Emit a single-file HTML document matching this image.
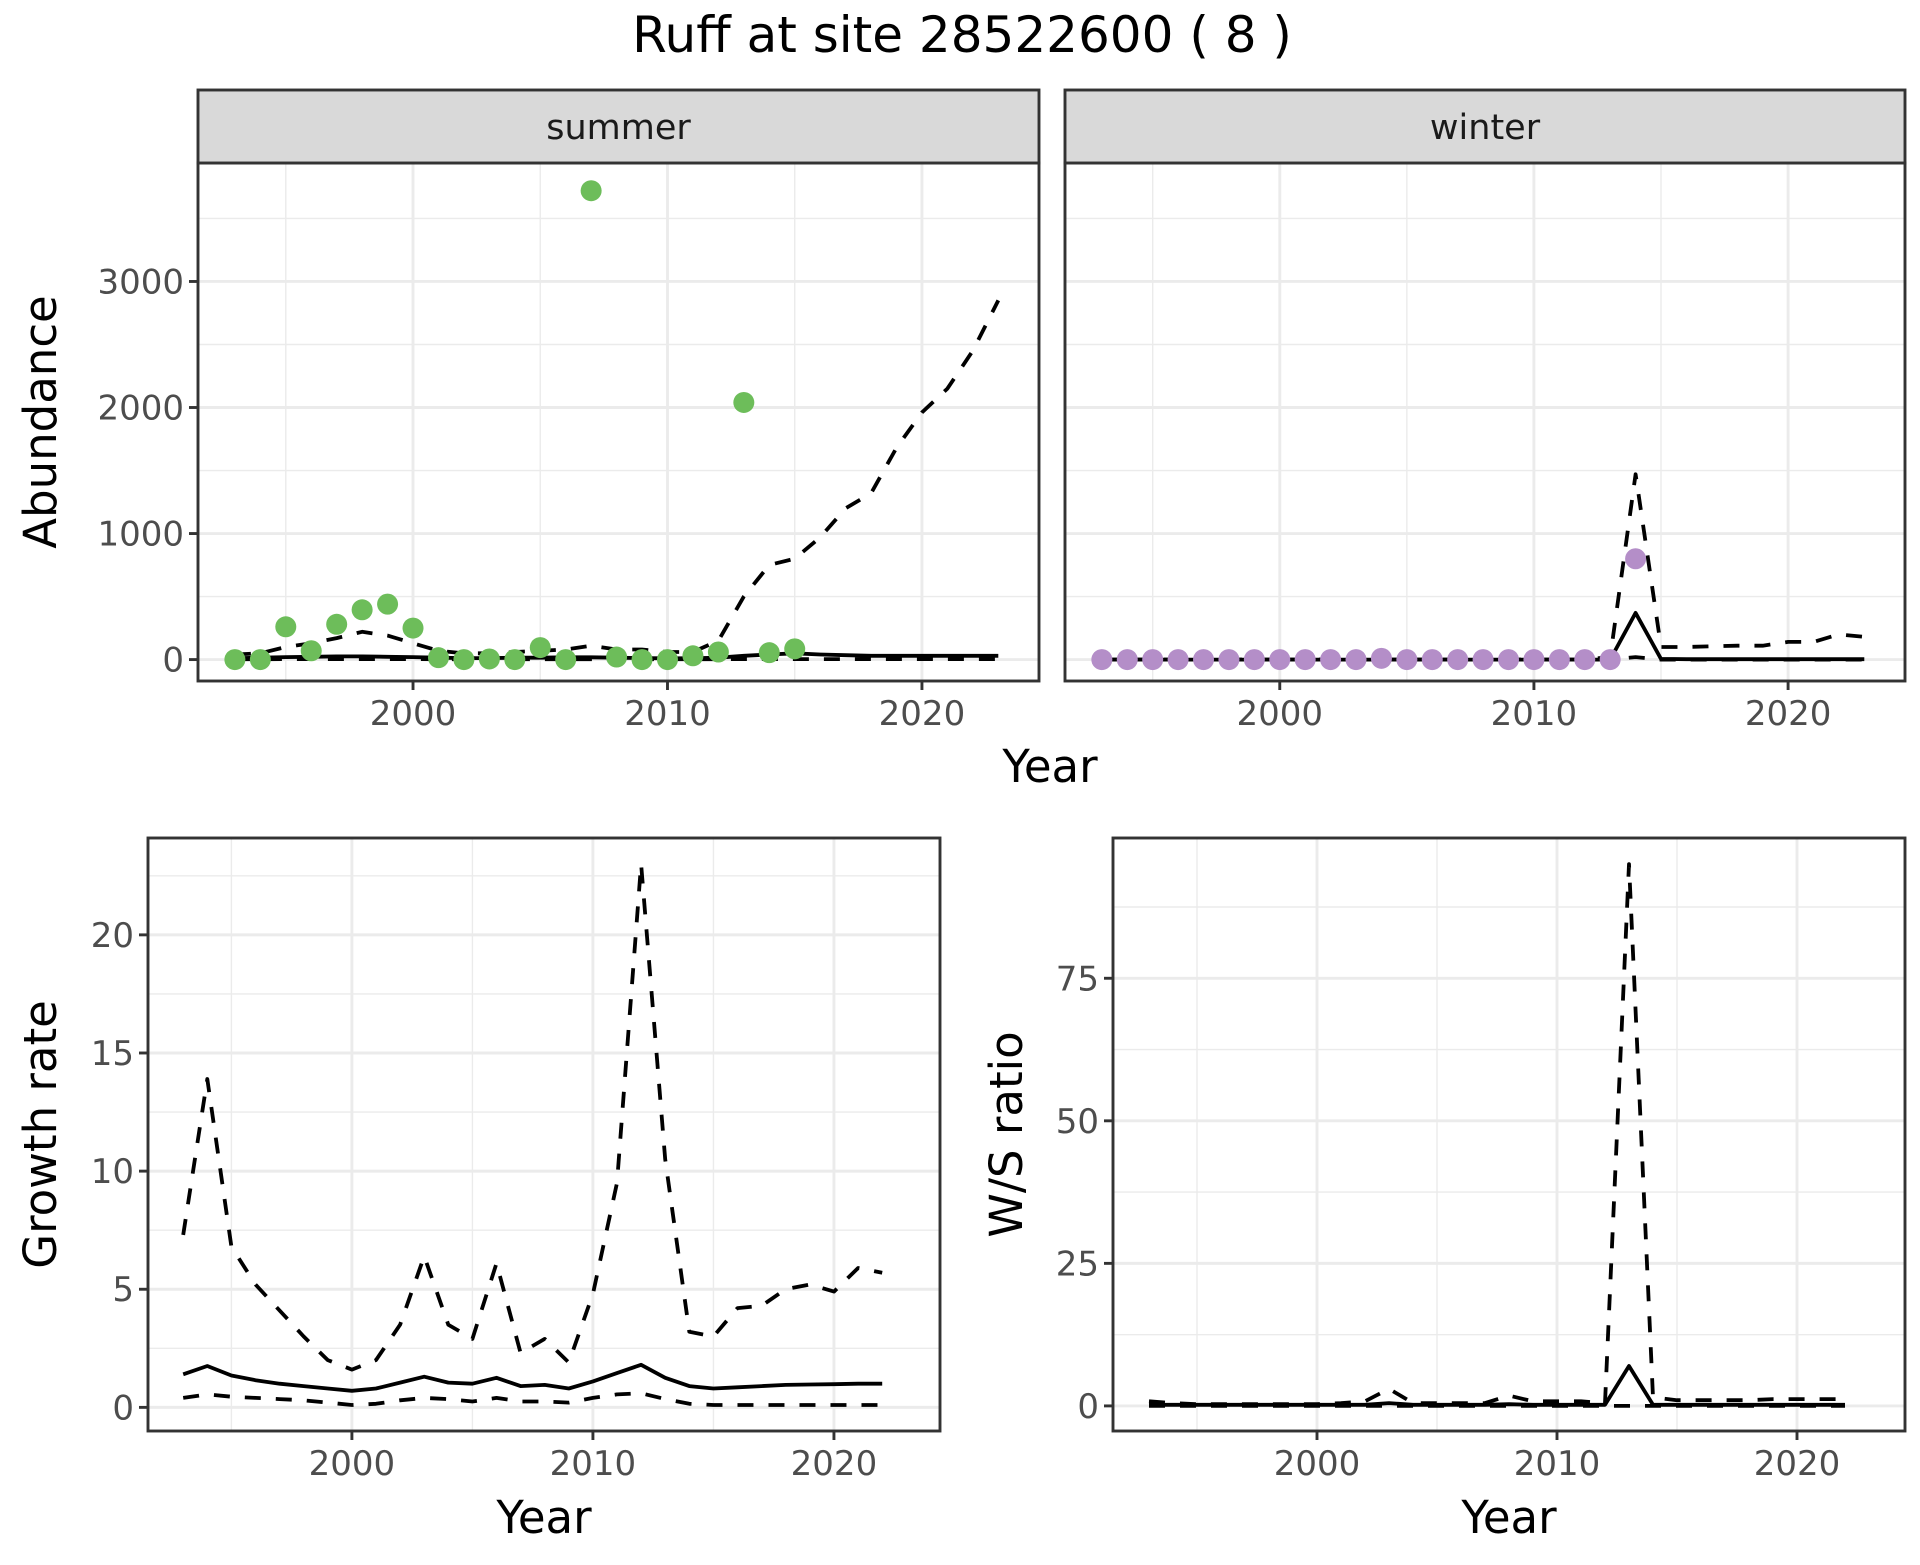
<!DOCTYPE html>
<html><head><meta charset="utf-8"><style>
body{margin:0;background:#fff}
svg text{font-family:"DejaVu Sans","Liberation Sans",sans-serif}
</style></head><body>
<svg id="c" width="1920" height="1560" xmlns="http://www.w3.org/2000/svg">
<text x="962" y="52" font-size="50" text-anchor="middle">Ruff at site 28522600 ( 8 )</text>
</svg>
<script>
// ---- data ----
const yearsA = [1993,1994,1995,1996,1997,1998,1999,2000,2001,2002,2003,2004,2005,2006,2007,2008,2009,2010,2011,2012,2013,2014,2015,2016,2017,2018,2019,2020,2021,2022,2023];
const summerPtYears = [1993,1994,1995,1996,1997,1998,1999,2000,2001,2002,2003,2004,2005,2006,2007,2008,2009,2010,2011,2012,2013,2014,2015];
const summerPts = [0,0,260,70,280,395,440,250,15,0,5,0,95,0,3720,20,0,0,30,60,2040,55,85];
const summerUpper = [40,50,100,130,170,220,190,130,70,50,50,60,70,80,110,80,80,60,60,150,500,750,800,970,1200,1320,1680,1960,2150,2450,2850];
const summerMean = [10,15,20,22,25,25,22,20,15,12,12,15,15,18,18,15,12,10,10,15,30,40,50,40,35,30,30,30,30,30,30];
const summerLower = [3,3,4,4,4,4,4,4,3,3,3,3,3,3,3,3,3,3,3,3,4,4,4,4,4,4,4,4,4,4,4];
const winterPtYears = [1993,1994,1995,1996,1997,1998,1999,2000,2001,2002,2003,2004,2005,2006,2007,2008,2009,2010,2011,2012,2013,2014];
const winterPts = [0,0,0,0,0,0,0,0,0,0,0,10,0,0,0,0,0,0,0,0,0,800];
const winterUpper = [0,0,0,0,0,0,0,0,0,0,0,0,0,0,0,0,0,0,0,0,20,1470,100,100,105,110,110,140,140,200,180];
const winterMean = [0,0,0,0,0,0,0,0,0,0,0,0,0,0,0,0,0,0,0,0,0,370,5,3,3,3,3,3,3,3,3];
const winterLower = [0,0,0,0,0,0,0,0,0,0,0,0,0,0,0,0,0,0,0,0,0,20,0,0,0,0,0,0,0,0,0];
const yearsB = [1993,1994,1995,1996,1997,1998,1999,2000,2001,2002,2003,2004,2005,2006,2007,2008,2009,2010,2011,2012,2013,2014,2015,2016,2017,2018,2019,2020,2021,2022];
const growthUpper = [7.3,13.9,6.8,5.2,4.1,3.0,2.0,1.6,2.0,3.5,6.4,3.5,2.9,6.1,2.3,2.9,1.9,4.8,9.5,23.0,10.5,3.2,3.0,4.2,4.3,5.0,5.2,4.9,5.9,5.7];
const growthMean = [1.4,1.75,1.35,1.15,1.0,0.9,0.8,0.7,0.8,1.05,1.3,1.05,1.0,1.25,0.9,0.95,0.8,1.1,1.45,1.8,1.25,0.9,0.8,0.85,0.9,0.95,0.97,0.98,1.0,1.0];
const growthLower = [0.4,0.55,0.45,0.4,0.35,0.3,0.2,0.1,0.15,0.3,0.4,0.35,0.25,0.4,0.25,0.25,0.2,0.4,0.55,0.6,0.35,0.15,0.1,0.1,0.1,0.1,0.1,0.1,0.1,0.1];
const ratioUpper = [0.8,0.5,0.3,0.3,0.3,0.3,0.3,0.3,0.5,0.8,3,0.5,0.5,0.5,0.5,1.8,0.8,0.8,0.8,0.5,95,1.5,1,1,1,1,1.2,1.2,1.2,1.2];
const ratioMean = [0.2,0.2,0.2,0.2,0.2,0.2,0.2,0.2,0.2,0.2,0.5,0.2,0.2,0.2,0.2,0.3,0.2,0.2,0.2,0.2,7,0.2,0.2,0.2,0.2,0.2,0.2,0.2,0.2,0.2];
const ratioLower = [0,0,0,0,0,0,0,0,0,0,0,0,0,0,0,0,0,0,0,0,0,0,0,0,0,0,0,0,0,0];
const xTicks = [2000,2010,2020];
const abTicks = [0,1000,2000,3000];
const grTicks = [0,5,10,15,20];
const wsTicks = [0,25,50,75];

const svg = document.getElementById('c');
const NS = 'http://www.w3.org/2000/svg';
function mk(tag, attrs, parent){const e=document.createElementNS(NS,tag);for(const k in attrs)e.setAttribute(k,attrs[k]);(parent||svg).appendChild(e);return e;}

function panel(o){
  const g = mk('g',{});
  
  
  const sx = v => o.x0 + (v - o.xd[0])/(o.xd[1]-o.xd[0])*(o.x1-o.x0);
  const sy = v => o.y1 - (v - o.yd[0])/(o.yd[1]-o.yd[0])*(o.y1-o.y0);
  const xs = [...o.xt]; const step = xs[1]-xs[0];
  for(let v=xs[0]-step*2+step/2; v<=o.xd[1]; v+=step){ if(v>=o.xd[0]) mk('line',{x1:sx(v),x2:sx(v),y1:o.y0,y2:o.y1,stroke:'#ebebeb','stroke-width':1.4},g); }
  const ys = o.yt; const ystep = ys[1]-ys[0];
  for(let v=ys[0]-ystep/2; v<=o.yd[1]; v+=ystep){ if(v>=o.yd[0]) mk('line',{x1:o.x0,x2:o.x1,y1:sy(v),y2:sy(v),stroke:'#ebebeb','stroke-width':1.4},g); }
  for(const v of xs){ mk('line',{x1:sx(v),x2:sx(v),y1:o.y0,y2:o.y1,stroke:'#ebebeb','stroke-width':2.9},g);
    mk('line',{x1:sx(v),x2:sx(v),y1:o.y1,y2:o.y1+9,stroke:'#333','stroke-width':2.9},g);
    const t=mk('text',{x:sx(v),y:o.y1+44,'font-size':34,fill:'#4d4d4d','text-anchor':'middle'},g);t.textContent=v;
      }
  for(const v of ys){ mk('line',{x1:o.x0,x2:o.x1,y1:sy(v),y2:sy(v),stroke:'#ebebeb','stroke-width':2.9},g);
    if(o.showY){ mk('line',{x1:o.x0-9,x2:o.x0,y1:sy(v),y2:sy(v),stroke:'#333','stroke-width':2.9},g);
    const t=mk('text',{x:o.x0-14,y:sy(v)+12,'font-size':34,fill:'#4d4d4d','text-anchor':'end'},g);t.textContent=v;
      } }
  const clipId='clip'+o.name; const cp=mk('clipPath',{id:clipId},g); mk('rect',{x:o.x0,y:o.y0,width:o.x1-o.x0,height:o.y1-o.y0},cp);
  const lg = mk('g',{'clip-path':'url(#'+clipId+')'},g);
  for(const s of o.lines){
    const d = s.ys.map((v,i)=>(i?'L':'M')+sx(s.xs[i]).toFixed(1)+','+sy(v).toFixed(1)).join('');
    const p = mk('path',{d:d,fill:'none',stroke:'#000','stroke-width':3.8,'stroke-dasharray':s.dash?'16,15':'none','stroke-linejoin':'round'},lg);
    
    
  }
  if(o.pts){ o.pts.ys.forEach((v,i)=>{ const c=mk('circle',{cx:sx(o.pts.xs[i]),cy:sy(v),r:10.5,fill:o.pts.color},lg);
    
     }); }
  mk('rect',{x:o.x0,y:o.y0,width:o.x1-o.x0,height:o.y1-o.y0,fill:'none',stroke:'#333','stroke-width':2.9},g);
  if(o.strip){ const r=mk('rect',{x:o.x0,y:o.y0-73,width:o.x1-o.x0,height:73,fill:'#d9d9d9',stroke:'#333','stroke-width':2.9},g);
     
    const t=mk('text',{x:(o.x0+o.x1)/2,y:o.y0-24,'font-size':35,fill:'#1a1a1a','text-anchor':'middle'},g);t.textContent=o.strip; }
  if(o.ylab){ const t=mk('text',{transform:'translate('+o.ylabX+','+((o.y0+o.y1)/2)+') rotate(-90)','font-size':45,'text-anchor':'middle'},g);t.textContent=o.ylab;
      }
  if(o.xlab){ const t=mk('text',{x:(o.x0+o.x1)/2,y:o.y1+102,'font-size':45,'text-anchor':'middle'},g);t.textContent=o.xlab;
      }
}
const abY=[-170,3940];
panel({name:'summer-panel',x0:198,x1:1039,y0:163,y1:681,xd:[1991.55,2024.6],yd:abY,xt:xTicks,yt:abTicks,showY:true,strip:'summer',ylab:'Abundance',ylabX:56,
  lines:[{xs:yearsA,ys:summerUpper,dash:true,name:'summer-upper-ci'},{xs:yearsA,ys:summerLower,dash:true,name:'summer-lower-ci'},{xs:yearsA,ys:summerMean,dash:false,name:'summer-mean'}],
  pts:{xs:summerPtYears,ys:summerPts,color:'#6dbd5a'}});
panel({name:'winter-panel',x0:1065,x1:1905,y0:163,y1:681,xd:[1991.55,2024.6],yd:abY,xt:xTicks,yt:abTicks,showY:false,strip:'winter',
  lines:[{xs:yearsA,ys:winterUpper,dash:true,name:'winter-upper-ci'},{xs:yearsA,ys:winterLower,dash:true,name:'winter-lower-ci'},{xs:yearsA,ys:winterMean,dash:false,name:'winter-mean'}],
  pts:{xs:winterPtYears,ys:winterPts,color:'#b48ec8'}});
const t=mk('text',{x:1050,y:782,'font-size':45,'text-anchor':'middle'});t.textContent='Year';
 
panel({name:'growth-rate-panel',x0:148,x1:940,y0:838,y1:1431,xd:[1991.54,2024.4],yd:[-1.0,24.1],xt:xTicks,yt:grTicks,showY:true,ylab:'Growth rate',ylabX:56,xlab:'Year',
  lines:[{xs:yearsB,ys:growthUpper,dash:true,name:'growth-upper-ci'},{xs:yearsB,ys:growthLower,dash:true,name:'growth-lower-ci'},{xs:yearsB,ys:growthMean,dash:false,name:'growth-mean'}]});
panel({name:'ws-ratio-panel',x0:1113,x1:1905,y0:838,y1:1431,xd:[1991.5,2024.5],yd:[-4.4,99.6],xt:xTicks,yt:wsTicks,showY:true,ylab:'W/S ratio',ylabX:1022,xlab:'Year',
  lines:[{xs:yearsB,ys:ratioUpper,dash:true,name:'ratio-upper-ci'},{xs:yearsB,ys:ratioLower,dash:true,name:'ratio-lower-ci'},{xs:yearsB,ys:ratioMean,dash:false,name:'ratio-mean'}]});
</script>
</body></html>
